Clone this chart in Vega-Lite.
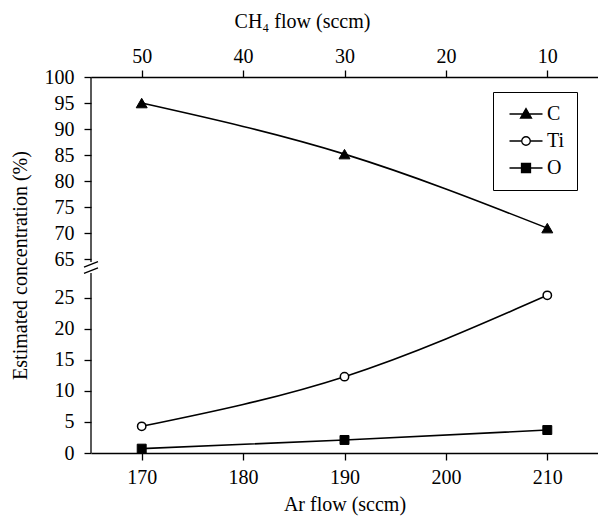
{
  "$schema": "https://vega.github.io/schema/vega-lite/v6.json",
  "width": 507,
  "height": 376,
  "autosize": {"type": "none"},
  "padding": {"left": 91, "top": 77, "right": 0, "bottom": 64},
  "background": "white",
  "config": {
    "view": {"stroke": null},
    "font": "Liberation Serif",
    "axis": {
      "grid": false,
      "domainColor": "black",
      "domainWidth": 1.3,
      "tickColor": "black",
      "tickWidth": 1.3,
      "tickSize": 7,
      "labelColor": "black",
      "labelFont": "Liberation Serif",
      "labelFontSize": 20,
      "titleColor": "black",
      "titleFont": "Liberation Serif",
      "titleFontSize": 20,
      "titleFontWeight": "normal"
    }
  },
  "datasets": {
    "conc": [
      {"series": "C", "Ar": 170, "value": 95.0},
      {"series": "C", "Ar": 190, "value": 85.2},
      {"series": "C", "Ar": 210, "value": 71.0},
      {"series": "Ti", "Ar": 170, "value": 4.3},
      {"series": "Ti", "Ar": 190, "value": 12.3},
      {"series": "Ti", "Ar": 210, "value": 25.4},
      {"series": "O", "Ar": 170, "value": 0.7},
      {"series": "O", "Ar": 190, "value": 2.1},
      {"series": "O", "Ar": 210, "value": 3.7}
    ],
    "ch4": [{"CH4": 50}, {"CH4": 40}, {"CH4": 30}, {"CH4": 20}, {"CH4": 10}],
    "axisSegments": [
      {"Ar": 165, "value": 0, "value2": 29},
      {"Ar": 165, "value": 64.5, "value2": 100}
    ],
    "brk": [{"Ar": 165, "value": 46.75}]
  },
  "layer": [
    {
      "encoding": {
        "x": {
          "field": "Ar",
          "type": "quantitative",
          "scale": {"domain": [165, 215], "nice": false, "zero": false},
          "axis": {
            "orient": "bottom",
            "values": [170, 180, 190, 200, 210],
            "title": "Ar flow (sccm)",
            "labelPadding": 7,
            "titlePadding": 7
          }
        },
        "y": {
          "field": "value",
          "type": "quantitative",
          "scale": {"domain": [0, 29, 64.5, 100], "range": [376, 196, 185, 0], "nice": false, "zero": false},
          "axis": {
            "values": [0, 5, 10, 15, 20, 25, 65, 70, 75, 80, 85, 90, 95, 100],
            "domain": false,
            "title": "Estimated concentration (%)",
            "labelPadding": 10,
            "titlePadding": 14
          }
        }
      },
      "layer": [
        {
          "data": {"name": "axisSegments"},
          "mark": {"type": "rule", "color": "black", "strokeWidth": 1.3},
          "encoding": {"y2": {"field": "value2"}}
        },
        {
          "data": {"name": "brk"},
          "mark": {"type": "point", "shape": "M-1,-0.05L1,-0.85M-1,0.85L1,0.05", "size": 196, "stroke": "black", "strokeWidth": 1.3, "filled": false, "opacity": 1}
        },
        {
          "data": {"name": "conc"},
          "mark": {"type": "line", "color": "black", "strokeWidth": 1.6, "interpolate": "monotone"},
          "encoding": {"detail": {"field": "series", "type": "nominal"}}
        },
        {
          "data": {"name": "conc"},
          "transform": [{"filter": "datum.series === 'C'"}],
          "mark": {"type": "point", "shape": "triangle-up", "size": 120, "filled": true, "fill": "black", "stroke": "black", "strokeWidth": 1, "opacity": 1}
        },
        {
          "data": {"name": "conc"},
          "transform": [{"filter": "datum.series === 'Ti'"}],
          "mark": {"type": "point", "shape": "circle", "size": 70, "filled": true, "fill": "white", "stroke": "black", "strokeWidth": 1.5, "opacity": 1}
        },
        {
          "data": {"name": "conc"},
          "transform": [{"filter": "datum.series === 'O'"}],
          "mark": {"type": "point", "shape": "square", "size": 80, "filled": true, "fill": "black", "stroke": "black", "strokeWidth": 1, "opacity": 1}
        },
        {
          "data": {"name": "conc"},
          "mark": {"type": "point", "size": 100, "filled": true, "strokeWidth": 1.3, "opacity": 0},
          "encoding": {
            "shape": {
              "field": "series",
              "type": "nominal",
              "scale": {
                "domain": ["C", "Ti", "O"],
                "range": [
                  "M-3.3,0H3.3M0,-1.1L1.1,0.8L-1.1,0.8Z",
                  "M-3.3,0H-0.85M0.85,0H3.3M-0.85,0A0.85,0.85 0 1,0 0.85,0A0.85,0.85 0 1,0 -0.85,0Z",
                  "M-3.3,0H3.3M-0.9,-0.9H0.9V0.9H-0.9Z"
                ]
              },
              "legend": {
                "orient": "none",
                "legendX": 402,
                "legendY": 15,
                "title": null,
                "strokeColor": "black",
                "fillColor": "white",
                "padding": 12,
                "symbolOpacity": 1,
                "symbolSize": 100,
                "symbolStrokeWidth": 1.3,
                "symbolOffset": 11,
                "labelOffset": 11,
                "labelFont": "Liberation Serif",
                "labelFontSize": 20,
                "labelColor": "black",
                "rowPadding": 7
              }
            },
            "fill": {
              "field": "series",
              "type": "nominal",
              "scale": {"domain": ["C", "Ti", "O"], "range": ["black", "white", "black"]},
              "legend": {
                "orient": "none",
                "legendX": 402,
                "legendY": 15,
                "title": null,
                "strokeColor": "black",
                "fillColor": "white",
                "padding": 12,
                "symbolOpacity": 1,
                "symbolSize": 100,
                "symbolStrokeWidth": 1.3,
                "symbolOffset": 11,
                "labelOffset": 11,
                "labelFont": "Liberation Serif",
                "labelFontSize": 20,
                "labelColor": "black",
                "rowPadding": 7
              }
            },
            "stroke": {
              "field": "series",
              "type": "nominal",
              "scale": {"domain": ["C", "Ti", "O"], "range": ["black", "black", "black"]},
              "legend": {
                "orient": "none",
                "legendX": 402,
                "legendY": 15,
                "title": null,
                "strokeColor": "black",
                "fillColor": "white",
                "padding": 12,
                "symbolOpacity": 1,
                "symbolSize": 100,
                "symbolStrokeWidth": 1.3,
                "symbolOffset": 11,
                "labelOffset": 11,
                "labelFont": "Liberation Serif",
                "labelFontSize": 20,
                "labelColor": "black",
                "rowPadding": 7
              }
            }
          }
        }
      ]
    },
    {
      "data": {"name": "ch4"},
      "mark": {"type": "point", "opacity": 0},
      "encoding": {
        "x": {
          "field": "CH4",
          "type": "quantitative",
          "scale": {"domain": [5, 55], "reverse": true, "nice": false, "zero": false},
          "axis": {
            "orient": "top",
            "values": [50, 40, 30, 20, 10],
            "title": "CH₄ flow (sccm)",
            "titleX": 211,
            "labelPadding": 4,
            "titlePadding": 15
          }
        }
      }
    }
  ],
  "resolve": {"scale": {"x": "independent"}, "axis": {"x": "independent"}}
}
